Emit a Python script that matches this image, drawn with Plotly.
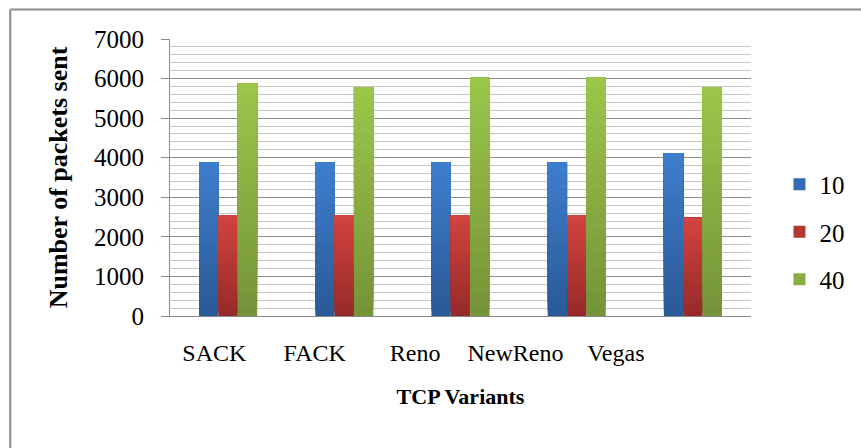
import plotly.graph_objects as go

# ---- data -----------------------------------------------------------------
variants = ["SACK", "FACK", "Reno", "NewReno", "Vegas"]
series_names = ["10", "20", "40"]
packets_10 = [3880, 3880, 3880, 3880, 4110]
packets_20 = [2550, 2550, 2550, 2550, 2480]
packets_40 = [5875, 5785, 6025, 6025, 5785]
y_ticks = [0, 1000, 2000, 3000, 4000, 5000, 6000, 7000]

series_values = [packets_10, packets_20, packets_40]
# (top colour, bottom colour) of each series' vertical gradient
series_colors = [
    ((62, 126, 206), (42, 89, 150)),
    ((210, 68, 64), (150, 42, 40)),
    ((157, 198, 74), (116, 147, 56)),
]

SERIF = "Liberation Serif"
N_STEPS = 30          # gradient slices per bar
BAR_W = 0.5 / 3       # three bars fill half of each category slot


def mix(c_top, c_bot, t):
    r, g, b = (round(c_bot[i] + (c_top[i] - c_bot[i]) * t) for i in range(3))
    return f"rgb({r},{g},{b})"


fig = go.Figure()

for s, (name, vals, (c_top, c_bot)) in enumerate(zip(series_names, series_values, series_colors)):
    offset = -0.25 + s * BAR_W
    for k in range(N_STEPS):
        frac = k / N_STEPS
        bases = [v * frac for v in vals]
        fig.add_trace(go.Bar(
            x=variants,
            y=[v - b for v, b in zip(vals, bases)],
            base=bases,
            width=BAR_W,
            offset=offset,
            marker=dict(color=mix(c_top, c_bot, (k + 0.5) / N_STEPS), line=dict(width=0)),
            name=name,
            legendgroup=name,
            showlegend=(k == N_STEPS // 2),
            hoverinfo="skip" if k else None,
            customdata=vals,
            hovertemplate="%{x}: %{customdata}<extra>" + name + "</extra>",
        ))

# category labels live on a companion axis
fig.add_trace(go.Scatter(
    x=list(range(len(variants))), y=[0] * len(variants),
    xaxis="x2", mode="markers", marker=dict(opacity=0),
    showlegend=False, hoverinfo="skip",
))

fig.update_layout(
    width=861, height=448,
    margin=dict(l=170, r=102, t=39, b=132),
    paper_bgcolor="white", plot_bgcolor="white",
    barmode="overlay",
    font=dict(family=SERIF, color="black"),
    xaxis=dict(
        type="category", categoryorder="array", categoryarray=variants,
        showticklabels=False, ticks="", showgrid=False,
        showline=True, linecolor="#8a8a8a", linewidth=1,
        title=dict(text="<b>TCP Variants</b>", font=dict(size=22, family=SERIF), standoff=72),
    ),
    xaxis2=dict(
        overlaying="x", anchor="y", side="bottom",
        range=[-0.442, 5.347], tickmode="array",
        tickvals=list(range(len(variants))), ticktext=variants,
        tickfont=dict(size=24, family=SERIF), ticks="",
        showgrid=False, showline=False, zeroline=False,
        ticklabelstandoff=20,
    ),
    yaxis=dict(
        range=[0, 7000], tickmode="array", tickvals=y_ticks,
        tickfont=dict(size=25, family=SERIF),
        ticks="outside", ticklen=8, tickcolor="#8a8a8a",
        showline=True, linecolor="#8a8a8a", linewidth=1,
        showgrid=True, gridcolor="#8c8c8c", gridwidth=1, zeroline=False,
        minor=dict(dtick=200, showgrid=True, gridcolor="#c6c6c6", gridwidth=1),
        ticklabelstandoff=12,
        title=dict(text="<b>Number of packets sent</b>", font=dict(size=26, family=SERIF), standoff=18),
    ),
    legend=dict(
        x=1.049, xanchor="left", y=0.303, yanchor="middle",
        font=dict(size=25, family=SERIF), tracegroupgap=12,
        bgcolor="rgba(0,0,0,0)",
    ),
    shapes=[
        dict(type="line", xref="paper", yref="paper",
             x0=-0.275, x1=-0.275, y0=-0.6, y1=1.1065,
             line=dict(color="#8c8c8c", width=2)),
        dict(type="line", xref="paper", yref="paper",
             x0=-0.275, x1=1.3, y0=1.1065, y1=1.1065,
             line=dict(color="#8c8c8c", width=2)),
    ],
)

fig.write_html("out.html")
